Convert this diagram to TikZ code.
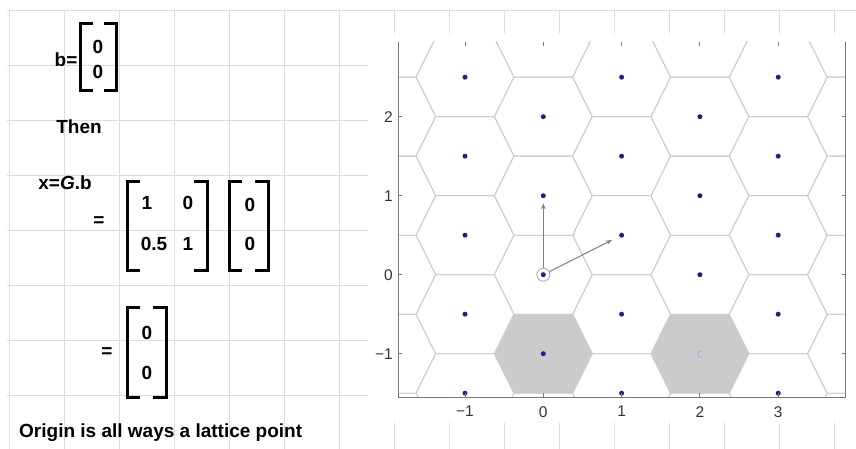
\documentclass[tikz,border=0pt]{standalone}
\usepackage{fontspec}
\setmainfont{Liberation Sans}
\usetikzlibrary{arrows.meta}

\definecolor{sheetgrid}{HTML}{DCDCDC}
\definecolor{hexline}{HTML}{CDCDCD}
\definecolor{cellfill}{HTML}{CBCBCB}
\definecolor{latdot}{HTML}{1E1E8C}
\definecolor{axisgray}{HTML}{7A7A7A}
\definecolor{vecgray}{HTML}{808080}
\definecolor{ringcol}{HTML}{A8A8CC}

% one Voronoi cell, drawn from its lattice point
\newcommand{\hexcell}{++(0.375,0.5) -- ++(0.25,-0.5) -- ++(-0.25,-0.5) -- ++(-0.75,0) -- ++(-0.25,0.5) -- ++(0.25,0.5) -- cycle}
% matrix brackets
\newcommand{\openbr}[3]{\draw[bracket] (#1+13,#2) -- (#1,#2) -- (#1,#3) -- (#1+13,#3);}
\newcommand{\closebr}[3]{\draw[bracket] (#1-13,#2) -- (#1,#2) -- (#1,#3) -- (#1-13,#3);}

\begin{document}
\begin{tikzpicture}[x=1pt, y=-1pt,
  sheetline/.style={sheetgrid, line width=0.8pt},
  sheettext/.style={font=\bfseries\fontsize{19}{22}\selectfont, inner sep=0pt},
  bracket/.style={line width=3pt, line join=miter},
  hexedge/.style={hexline, line width=0.9pt},
  latpt/.style={circle, fill=latdot, inner sep=0pt, minimum size=5pt},
  originring/.style={circle, draw=ringcol, line width=0.9pt, inner sep=0pt, minimum size=13pt},
  vecarrow/.style={vecgray, line width=1pt, -{Stealth[length=6pt, width=4.5pt]}},
  axisline/.style={axisgray, line width=0.9pt},
  ticklab/.style={font=\fontsize{15.5}{18}\selectfont, text=black!80, inner sep=0pt}]
\useasboundingbox (0,0) rectangle (856,449);
\fill[white] (0,0) rectangle (856,449);

% spreadsheet grid
\foreach \gx in {0,...,15}
  \draw[sheetline] (9.5+55*\gx,10) -- (9.5+55*\gx,449);
\foreach \gy in {0,...,7}
  \draw[sheetline] (7,10+55*\gy) -- (856,10+55*\gy);

% worksheet text
\node[sheettext] (blab) at (66,60) {b=};
\openbr{80}{23.5}{91}
\closebr{116.5}{23.5}{91}
\node[sheettext] (b1) at (98,47) {0};
\node[sheettext] (b2) at (98,72) {0};

\node[sheettext] (then) at (79,127) {Then};

\node[sheettext] (xdef) at (65,183) {x=\textit{G}.b};
\node[sheettext] (eq1) at (99,222) {=};
\openbr{127}{182}{270}
\closebr{207}{182}{270}
\node[sheettext] (g11) at (147,203) {1};
\node[sheettext] (g12) at (188,203) {0};
\node[sheettext] (g21) at (154,244) {0.5};
\node[sheettext] (g22) at (188,244) {1};
\openbr{229}{182}{270}
\closebr{268}{182}{270}
\node[sheettext] (v1) at (250,205) {0};
\node[sheettext] (v2) at (250,244) {0};

\node[sheettext] (eq2) at (107,353) {=};
\openbr{127}{307.5}{397}
\closebr{166}{307.5}{397}
\node[sheettext] (r1) at (147,333) {0};
\node[sheettext] (r2) at (147,373) {0};

\node[sheettext, anchor=base west] (note) at (19,437) {Origin is all ways a lattice point};

% lattice plot
\fill[white] (368,33) rectangle (856,423);
\begin{scope}[shift={(543.3,274.7)}, x=78.3pt, y=79pt]
  \begin{scope}
    \clip (-1.856,-1.548) rectangle (3.86,2.946);
    \fill[cellfill] (0,-1) \hexcell;
    \fill[cellfill] (2,-1) \hexcell;
    \foreach \i in {-3,...,5}
      \foreach \j in {-4,...,5} {
        \pgfmathsetmacro\cy{0.5*(\i)+(\j)}
        \draw[hexedge] (\i,\cy) \hexcell;
      }
  \end{scope}
  \foreach \i in {-1,...,3}
    \foreach \j in {-3,...,3} {
      \pgfmathsetmacro\cy{0.5*(\i)+(\j)}
      \pgfmathparse{and(and(\cy>-1.6,\cy<2.9),not(and(\i==2,\j==-2)))}
      \ifdim\pgfmathresult pt>0.5pt
        \node[latpt] (p\i x\j) at (\i,\cy) {};
      \fi
    }
  \draw[blue!35, line width=0.9pt] (2.03,-0.97) arc (60:300:0.04);
  \node[originring] (o) at (0,0) {};
  \draw[vecarrow, shorten >=5pt] (o) -- (p0x1);
  \draw[vecarrow, shorten >=8pt] (o) -- (p1x0);
  % axes
  \draw[axisline] (-1.856,2.946) -- (-1.856,-1.548) -- (3.86,-1.548) -- (3.86,2.946);
  \foreach \t/\tl in {-1/−1,0/0,1/1,2/2,3/3} {
    \draw[axisline] (\t,-1.548) -- ++(0,4pt);
    \draw[axisline] (\t,2.946) -- ++(0,-4pt);
    \node[ticklab, anchor=north] (xt\t) at ([yshift=-9pt]\t,-1.548) {\tl};
  }
  \foreach \t/\tl in {-1/−1,0/0,1/1,2/2} {
    \draw[axisline] (-1.856,\t) -- ++(4pt,0);
    \draw[axisline] (3.86,\t) -- ++(-4pt,0);
    \node[ticklab, anchor=east] (yt\t) at ([xshift=-5pt]-1.856,\t) {\tl};
  }
\end{scope}
\end{tikzpicture}
\end{document}
